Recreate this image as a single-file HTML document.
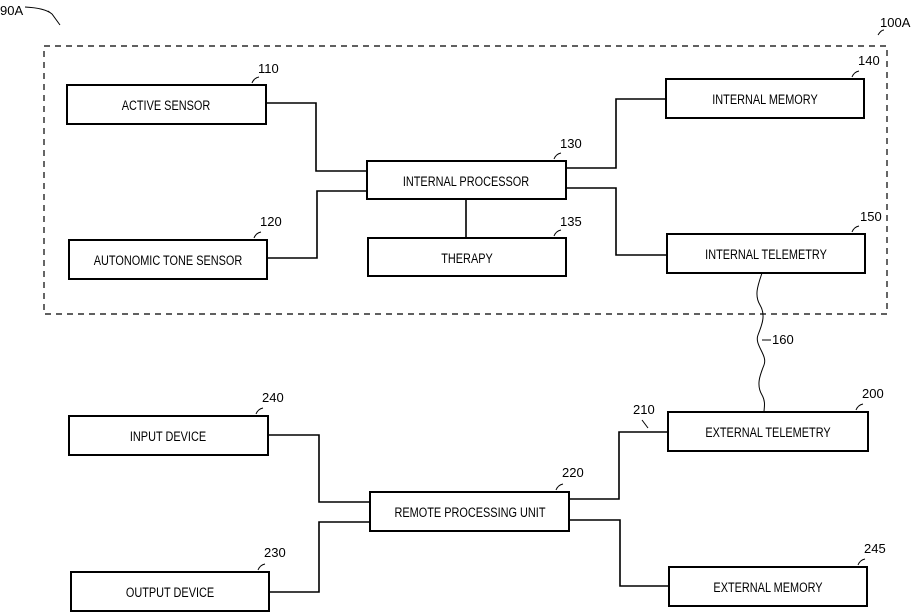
<!DOCTYPE html>
<html><head><style>
html,body{margin:0;padding:0;background:#fff}
svg{display:block}
text{font-family:"Liberation Sans",sans-serif;font-size:13px;fill:#000}
.c{font-size:14px}
.b{fill:none;stroke:#000;stroke-width:2}
.l{fill:none;stroke:#000;stroke-width:1.6}
.t{fill:none;stroke:#000;stroke-width:1}
</style></head><body>
<svg width="912" height="612" viewBox="0 0 912 612">
<text x="0" y="15" font-size="12">90A</text>
<path class="t" d="M25 7 Q45 8 52 14 L60 25 M52 14 L48 11"/>
<text x="880" y="27" font-size="12">100A</text>
<path class="t" d="M878 35 q3 -5 6 -5"/>
<rect x="44" y="46" width="843" height="268" fill="none" stroke="#000" stroke-width="1.2" stroke-dasharray="6,5"/>

<rect class="b" x="67" y="85" width="199" height="39"/><text class="c" transform="translate(166 110) scale(0.78 1)" text-anchor="middle">ACTIVE SENSOR</text>
<rect class="b" x="69" y="240" width="198" height="39"/><text class="c" transform="translate(168 265) scale(0.78 1)" text-anchor="middle">AUTONOMIC TONE SENSOR</text>
<rect class="b" x="367" y="161" width="199" height="38"/><text class="c" transform="translate(466 186) scale(0.78 1)" text-anchor="middle">INTERNAL PROCESSOR</text>
<rect class="b" x="368" y="238" width="198" height="38"/><text class="c" transform="translate(467 263) scale(0.78 1)" text-anchor="middle">THERAPY</text>
<rect class="b" x="666" y="79" width="198" height="39"/><text class="c" transform="translate(765 104) scale(0.78 1)" text-anchor="middle">INTERNAL MEMORY</text>
<rect class="b" x="667" y="234" width="198" height="39"/><text class="c" transform="translate(766 259) scale(0.78 1)" text-anchor="middle">INTERNAL TELEMETRY</text>

<path class="l" d="M266 103 H316 V171 H367 M267 258 H317 V191 H367 M566 168 H616 V99 H666 M566 188 H616 V255 H667 M466 199 V238"/>

<text x="258" y="73">110</text><path class="t" d="M252 83 q2 -5 7 -6"/>
<text x="260" y="226">120</text><path class="t" d="M254 238 q2 -5 7 -6"/>
<text x="560" y="148">130</text><path class="t" d="M554 159 q2 -5 7 -6"/>
<text x="560" y="226">135</text><path class="t" d="M554 236 q2 -5 7 -6"/>
<text x="858" y="65">140</text><path class="t" d="M852 77 q2 -5 7 -6"/>
<text x="860" y="221">150</text><path class="t" d="M852 232 q2 -5 7 -6"/>

<path class="t" stroke-width="1.5" d="M762 273 C758 285,754 295,760 305 C766 315,762 325,758 335 C754 345,768 355,764 365 C760 375,756 385,762 395 C766 402,764 408,764 412"/>
<text x="772" y="344">160</text><path class="t" d="M762 340 h9"/>

<rect class="b" x="668" y="412" width="200" height="39"/><text class="c" transform="translate(768 437) scale(0.78 1)" text-anchor="middle">EXTERNAL TELEMETRY</text>
<rect class="b" x="69" y="416" width="199" height="39"/><text class="c" transform="translate(168 441) scale(0.78 1)" text-anchor="middle">INPUT DEVICE</text>
<rect class="b" x="370" y="492" width="199" height="39"/><text class="c" transform="translate(470 517) scale(0.78 1)" text-anchor="middle">REMOTE PROCESSING UNIT</text>
<rect class="b" x="71" y="572" width="198" height="39"/><text class="c" transform="translate(170 597) scale(0.78 1)" text-anchor="middle">OUTPUT DEVICE</text>
<rect class="b" x="669" y="567" width="198" height="39"/><text class="c" transform="translate(768 592) scale(0.78 1)" text-anchor="middle">EXTERNAL MEMORY</text>

<path class="l" d="M268 435 H319 V502 H370 M269 592 H319 V522 H370 M569 499 H619 V432 H668 M569 520 H620 V586 H669"/>

<text x="262" y="402">240</text><path class="t" d="M256 414 q2 -5 7 -6"/>
<text x="264" y="557">230</text><path class="t" d="M258 570 q2 -5 7 -6"/>
<text x="562" y="477">220</text><path class="t" d="M556 490 q2 -5 7 -6"/>
<text x="633" y="414">210</text><path class="t" d="M642 420 q3 4 6 8"/>
<text x="862" y="398">200</text><path class="t" d="M856 410 q2 -5 7 -6"/>
<text x="864" y="553">245</text><path class="t" d="M858 565 q2 -5 7 -6"/>
</svg>
</body></html>
